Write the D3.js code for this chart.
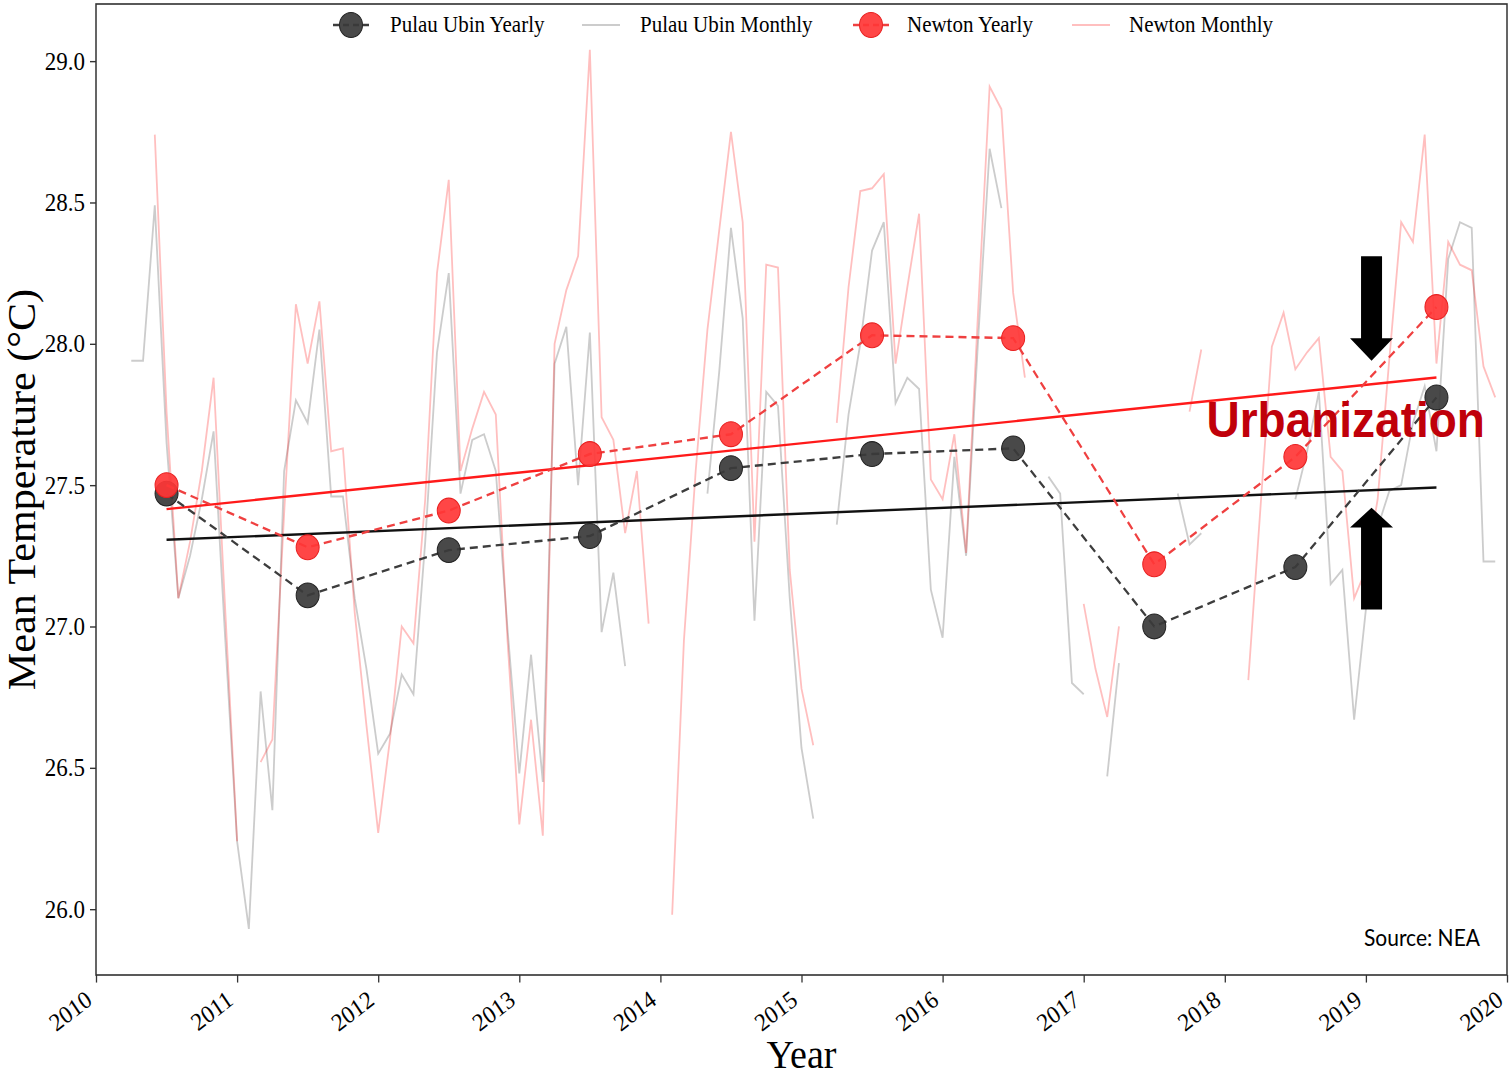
<!DOCTYPE html>
<html>
<head>
<meta charset="utf-8">
<script src="https://cdn.jsdelivr.net/npm/d3@7"></script>
<style>
  body { margin: 0; background: #fff; }
  svg { display: block; }
  text { font-family: "Liberation Serif", "Times New Roman", serif; fill: #000; }
</style>
</head>
<body>
<svg id="chart" width="1511" height="1077"></svg>
<script>
const WIDTH = 1511
const HEIGHT = 1077
const STRETCH = 1.08   // the source figure was stretched a little vertically

const yearTicks = [2010, 2011, 2012, 2013, 2014, 2015, 2016, 2017, 2018, 2019, 2020]
const tempTicks = [26.0, 26.5, 27.0, 27.5, 28.0, 28.5, 29.0]

const yearMid = [2010.5, 2011.5, 2012.5, 2013.5, 2014.5, 2015.5, 2016.5, 2017.5, 2018.5, 2019.5]
const ubinYearly = [27.47, 27.11, 27.27, 27.32, 27.56, 27.61, 27.63, 27.00, 27.21, 27.81]
const newtonYearly = [27.50, 27.28, 27.41, 27.61, 27.68, 28.03, 28.02, 27.22, 27.60, 28.13]

// monthly means, Jan 2010 .. Dec 2019 (null = missing month)
const ubinMonthly = [
  null, null, 27.94, 27.94, 28.49, 27.65, 27.10, 27.25, 27.45, 27.69, 26.95, 26.24,
  25.93, 26.77, 26.35, 27.55, 27.80, 27.72, 28.05, 27.46, 27.46, 27.10, 26.85, 26.55,
  26.62, 26.83, 26.76, 27.30, 27.97, 28.25, 27.47, 27.66, 27.68, 27.55, 26.99, 26.48,
  26.90, 26.45, 27.93, 28.06, 27.50, 28.04, 26.98, 27.19, 26.86, null, null, null,
  null, null, null, 27.47, 27.90, 28.41, 28.09, 27.02, 27.83, 27.78, 27.10, 26.57,
  26.32, null, 27.36, 27.75, 28.00, 28.33, 28.43, 27.79, 27.88, 27.84, 27.13, 26.96,
  27.60, 27.25, 28.00, 28.69, 28.48, null, null, null, 27.53, 27.47, 26.80, 26.76,
  null, 26.47, 26.87, null, null, null, null, 27.47, 27.29, 27.33, null, null,
  null, null, null, null, null, 27.45, 27.62, 27.83, 27.15, 27.20, 26.67, 27.06,
  27.35, 27.48, 27.50, 27.72, 27.85, 27.62, 28.30, 28.43, 28.41, 27.23, 27.23, null
]
const newtonMonthly = [
  null, null, null, null, 28.74, 27.76, 27.10, 27.30, 27.55, 27.88, 27.05, 26.24,
  null, 26.52, 26.60, 27.40, 28.14, 27.93, 28.15, 27.62, 27.63, 27.05, 26.65, 26.27,
  26.60, 27.00, 26.94, 27.45, 28.25, 28.58, 27.55, 27.70, 27.83, 27.75, 26.95, 26.30,
  26.67, 26.26, 28.00, 28.19, 28.31, 29.04, 27.74, 27.66, 27.33, 27.55, 27.01, null,
  25.98, 26.95, 27.55, 28.05, 28.40, 28.75, 28.43, 27.30, 28.28, 28.27, 27.20, 26.78,
  26.58, null, 27.72, 28.20, 28.54, 28.55, 28.60, 27.93, 28.20, 28.46, 27.52, 27.45,
  27.68, 27.26, 28.10, 28.91, 28.83, 28.18, 27.88, null, null, null, null, 27.08,
  26.85, 26.68, 27.00, null, null, null, null, null, 27.76, 27.98, null, null,
  null, 26.81, 27.40, 27.99, 28.11, 27.91, 27.97, 28.02, 27.60, 27.55, 27.10, 27.20,
  27.45, 27.95, 28.43, 28.36, 28.74, 27.93, 28.36, 28.28, 28.26, 27.92, 27.81, null
]

const svg = d3.select("#chart")
const g = svg.append("g").attr("transform", `scale(1,${STRETCH})`)

const x = d3.scaleLinear().domain([2010, 2020]).range([96, 1507])
const y = d3.scaleLinear().domain([25.767, 29.202]).range([975 / STRETCH, 4 / STRETCH])

const monthly = vals => vals.map((v, i) => ({t: 2010 + (i + 1) / 12, v: v}))

const fit = vals => {
    const mx = d3.mean(yearMid), my = d3.mean(vals)
    const b = d3.sum(yearMid, (t, i) => (t - mx) * (vals[i] - my)) / d3.sum(yearMid, t => (t - mx) ** 2)
    return t => my + b * (t - mx)
}

// axes
const xAxis = g.append("g")
    .attr("transform", `translate(0,${y(25.767)})`)
    .call(d3.axisBottom(x).tickValues(yearTicks).tickFormat(d3.format("d")).tickSize(7))
xAxis.select(".domain").remove()
xAxis.selectAll("line").attr("stroke", "#333").attr("stroke-width", 1.3)
xAxis.selectAll("text")
    .attr("x", 0).attr("y", 0).attr("dy", 0)
    .attr("text-anchor", "end")
    .attr("transform", "translate(-3,26) rotate(-36)")
    .style("font-size", "23px")
    .style("font-family", "Liberation Serif, serif")

const yAxis = g.append("g")
    .attr("transform", `translate(${x(2010)},0)`)
    .call(d3.axisLeft(y).tickValues(tempTicks).tickFormat(d3.format(".1f")).tickSize(6).tickPadding(5))
yAxis.select(".domain").remove()
yAxis.selectAll("line").attr("stroke", "#333").attr("stroke-width", 1.3)
yAxis.selectAll("text")
    .style("font-size", "23px")
    .style("font-family", "Liberation Serif, serif")

// monthly lines
const line = d3.line().defined(d => d.v !== null).x(d => x(d.t)).y(d => y(d.v))

g.append("path")
    .datum(monthly(ubinMonthly))
    .attr("fill", "none")
    .attr("stroke", "#999")
    .attr("stroke-opacity", 0.5)
    .attr("stroke-width", 1.8)
    .attr("d", line)

g.append("path")
    .datum(monthly(newtonMonthly))
    .attr("fill", "none")
    .attr("stroke", "#ff0000")
    .attr("stroke-opacity", 0.25)
    .attr("stroke-width", 1.8)
    .attr("d", line)

// trend lines
const trends = [
    {vals: ubinYearly, color: "#111"},
    {vals: newtonYearly, color: "#ff1a1a"}
]
trends.forEach(tr => {
    const f = fit(tr.vals)
    const ends = [yearMid[0], yearMid[yearMid.length - 1]]
    g.append("line")
        .attr("x1", x(ends[0])).attr("y1", y(f(ends[0])))
        .attr("x2", x(ends[1])).attr("y2", y(f(ends[1])))
        .attr("stroke", tr.color)
        .attr("stroke-width", 2.2)
})

// yearly dashed series with markers
const yearly = [
    {vals: ubinYearly, line: "#3d3d3d", fill: "#3a3a3a", edge: "#222"},
    {vals: newtonYearly, line: "#ef4040", fill: "#ff3636", edge: "#e82020"}
]
const yLine = d3.line().x(d => x(d.t)).y(d => y(d.v))
yearly.forEach(s => {
    const pts = s.vals.map((v, i) => ({t: yearMid[i], v: v}))
    g.append("path")
        .datum(pts)
        .attr("fill", "none")
        .attr("stroke", s.line)
        .attr("stroke-width", 2.2)
        .attr("stroke-dasharray", "8,5")
        .attr("d", yLine)
    g.append("g")
        .selectAll("circle")
        .data(pts)
        .enter().append("circle")
        .attr("cx", d => x(d.t))
        .attr("cy", d => y(d.v))
        .attr("r", 11.5)
        .attr("fill", s.fill)
        .attr("fill-opacity", 0.92)
        .attr("stroke", s.edge)
        .attr("stroke-width", 1)
})

// frame
g.append("rect")
    .attr("x", x(2010)).attr("y", y(29.202))
    .attr("width", x(2020) - x(2010))
    .attr("height", y(25.767) - y(29.202))
    .attr("fill", "none")
    .attr("stroke", "#333")
    .attr("stroke-width", 1.5)

// axis titles
g.append("text")
    .attr("x", (x(2010) + x(2020)) / 2)
    .attr("y", 1068 / STRETCH)
    .attr("text-anchor", "middle")
    .style("font-size", "38px")
    .text("Year")

g.append("text")
    .attr("transform", `translate(35,${(y(25.767) + y(29.202)) / 2}) rotate(-90)`)
    .attr("text-anchor", "middle")
    .style("font-size", "39px")
    .text("Mean Temperature (°C)")

// legend
const legendY = 25 / STRETCH
const legend = [
    {label: "Pulau Ubin Yearly", x0: 333, tx: 390, kind: "yearly", s: yearly[0]},
    {label: "Pulau Ubin Monthly", x0: 582, tx: 640, kind: "monthly", color: "#999", op: 0.5},
    {label: "Newton Yearly", x0: 853, tx: 907, kind: "yearly", s: yearly[1]},
    {label: "Newton Monthly", x0: 1072, tx: 1129, kind: "monthly", color: "#ff0000", op: 0.25}
]
legend.forEach(it => {
    const lg = g.append("g")
    if (it.kind === "yearly") {
        lg.append("line")
            .attr("x1", it.x0).attr("x2", it.x0 + 36)
            .attr("y1", legendY).attr("y2", legendY)
            .attr("stroke", it.s.line).attr("stroke-width", 2.2)
            .attr("stroke-dasharray", "6,4")
        lg.append("circle")
            .attr("cx", it.x0 + 18).attr("cy", legendY).attr("r", 11.5)
            .attr("fill", it.s.fill).attr("fill-opacity", 0.92)
            .attr("stroke", it.s.edge).attr("stroke-width", 1)
    } else {
        lg.append("line")
            .attr("x1", it.x0).attr("x2", it.x0 + 38)
            .attr("y1", legendY).attr("y2", legendY)
            .attr("stroke", it.color).attr("stroke-opacity", it.op).attr("stroke-width", 2)
    }
    lg.append("text")
        .attr("x", it.tx).attr("y", legendY)
        .attr("dominant-baseline", "central")
        .style("font-size", "21px")
        .text(it.label)
})

// annotation
g.append("text")
    .attr("x", x(2017.87))
    .attr("y", y(27.67))
    .style("font-family", "Liberation Sans, Arial, sans-serif")
    .style("font-weight", "bold")
    .style("font-size", "46px")
    .style("fill", "#c0000a")
    .text("Urbanization")

const arrowX = 2019.04
const shaftW = 10.5, headW = 21.5
const arrowPath = (shaftEnd, headBase, tip) => {
    const cx = x(arrowX)
    return `M${cx - shaftW},${y(shaftEnd)} L${cx + shaftW},${y(shaftEnd)} L${cx + shaftW},${y(headBase)} ` +
        `L${cx + headW},${y(headBase)} L${cx},${y(tip)} L${cx - headW},${y(headBase)} L${cx - shaftW},${y(headBase)} Z`
}
g.append("path").attr("d", arrowPath(28.31, 28.02, 27.94)).attr("fill", "#000")
g.append("path").attr("d", arrowPath(27.06, 27.35, 27.42)).attr("fill", "#000")

g.append("text")
    .attr("x", 1480)
    .attr("y", y(25.87))
    .attr("text-anchor", "end")
    .style("font-family", "Lato, Liberation Sans, sans-serif")
    .style("font-size", "21px")
    .text("Source: NEA")
</script>
</body>
</html>
